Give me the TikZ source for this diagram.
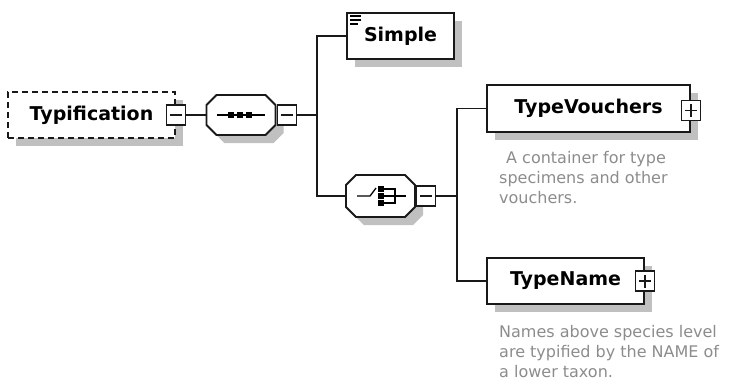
\documentclass[tikz,border=0pt]{standalone}
\usepackage{fontspec}
\setmainfont{DejaVu Sans}
\usetikzlibrary{positioning,shadows}

\colorlet{xsdLine}{black!90}
\definecolor{xsdShadow}{RGB}{192,192,192}
\definecolor{xsdDoc}{RGB}{140,140,140}

% octagon round a (blank) compositor node, with its shadow
\newcommand\octaPath[1]{([xshift=10pt]#1.north west) -- ([xshift=-10pt]#1.north east)
  -- ([yshift=-10pt]#1.north east) -- ([yshift=10pt]#1.south east)
  -- ([xshift=-10pt]#1.south east) -- ([xshift=10pt]#1.south west)
  -- ([yshift=10pt]#1.south west) -- ([yshift=-10pt]#1.north west) -- cycle}
\newcommand\octaShape[1]{%
  \begin{scope}[transform canvas={shift={(8pt,-8pt)}}]
    \fill[xsdShadow] \octaPath{#1};
  \end{scope}
  \draw[draw=xsdLine, line width=1.8pt, fill=white] \octaPath{#1};}

\begin{document}
\begin{tikzpicture}[x=1pt, y=-1pt, line join=miter,
    link/.style={draw=xsdLine, line width=1.6pt},
    elem/.style={draw=xsdLine, line width=1.8pt, fill=white, inner sep=0pt,
                 font=\fontsize{19}{23}\selectfont\bfseries,
                 drop shadow={shadow xshift=8pt, shadow yshift=-8pt,
                              opacity=1, fill=xsdShadow}},
    compositor/.style={inner sep=0pt, outer sep=0pt},
    toggle/.style={draw=xsdLine, line width=1.3pt, fill=white, inner sep=0pt,
                   minimum width=19pt, minimum height=20pt},
    togminus/.style={toggle, path picture={
        \draw[line width=1.3pt] ([xshift=3.5pt]path picture bounding box.west)
              -- ([xshift=-3.5pt]path picture bounding box.east);}},
    togplus/.style={toggle, path picture={
        \draw[line width=1.3pt] ([xshift=3.5pt]path picture bounding box.west)
              -- ([xshift=-3.5pt]path picture bounding box.east);
        \draw[line width=1.3pt] ([yshift=-3.5pt]path picture bounding box.north)
              -- ([yshift=3.5pt]path picture bounding box.south);}},
    doc/.style={font=\fontsize{16}{20}\selectfont, text=xsdDoc, align=left,
                anchor=north west, inner sep=0pt}]
  \useasboundingbox (0,0) rectangle (739,381);

  % elements
  \node[elem, dash pattern=on 6pt off 4pt, minimum width=167pt,
        minimum height=46pt] (typ) at (91.5,115) {Typification};
  \node[togminus] (typMinus) at (typ.east) {};
  \node[compositor, minimum width=69pt, minimum height=40pt] (seq) at (241,115) {};
  \octaShape{seq}
  \node[togminus, right=1pt of seq] (seqMinus) {};
  \node[elem, minimum width=107pt, minimum height=46pt] (simple) at (400.5,36) {Simple};
  \node[compositor, minimum width=69pt, minimum height=42pt] (choice) at (380.5,196) {};
  \octaShape{choice}
  \node[togminus, right=1pt of choice] (choiceMinus) {};
  \node[elem, minimum width=203pt, minimum height=47pt] (tv) at (588.5,108.5) {TypeVouchers};
  \node[togplus] (tvPlus) at ([yshift=-2pt]tv.east) {};
  \node[elem, minimum width=157pt, minimum height=46pt] (tn) at (565.5,281) {TypeName};
  \node[togplus] (tnPlus) at (tn.east) {};

  % documentation
  \node[doc] (tvDoc) at (499,151) {\hspace*{7pt}A container for type\\
        specimens and other\\ vouchers.};
  \node[doc] (tnDoc) at (499,325) {Names above species level\\
        are typified by the NAME of\\ a lower taxon.};

  % icons
  \draw[line width=1.5pt] ([shift={(4,4)}]simple.north west) -- ++(11,0)
        ([shift={(4,8)}]simple.north west) -- ++(11,0)
        ([shift={(4,12)}]simple.north west) -- ++(8,0);
  \draw[line width=1.3pt] ([xshift=-24pt]seq.center) -- ([xshift=24pt]seq.center);
  \foreach \dx in {-10,-1,8}
    \fill ([xshift=\dx pt]seq.center) +(-3,-3) rectangle +(3,3);
  \draw[line width=1.3pt] ([xshift=-23.5pt]choice.center) -- ++(13,0) -- ++(6,-8);
  \foreach \dy in {-7,0,7}
    \fill ([shift={(0.5,\dy)}]choice.center) +(-3,-3) rectangle +(3,3);
  \draw[line width=1.2pt] ([shift={(3.5,-7)}]choice.center) -| ([shift={(14.5,7)}]choice.center)
        -- ++(-11,0);
  \draw[line width=1.2pt] ([xshift=3.5pt]choice.center) -- ++(22,0);

  % connectors
  \coordinate (hubA) at (317,115);
  \coordinate (hubB) at (457,196);
  \draw[link] (typMinus.east) -- (seq.west);
  \draw[link] (seqMinus.east) -- (hubA);
  \draw[link] (simple.west) -| (hubA) |- (choice.west);
  \draw[link] (choiceMinus.east) -- (hubB);
  \draw[link] (tv.west) -| (hubB) |- (tn.west);
\end{tikzpicture}
\end{document}
